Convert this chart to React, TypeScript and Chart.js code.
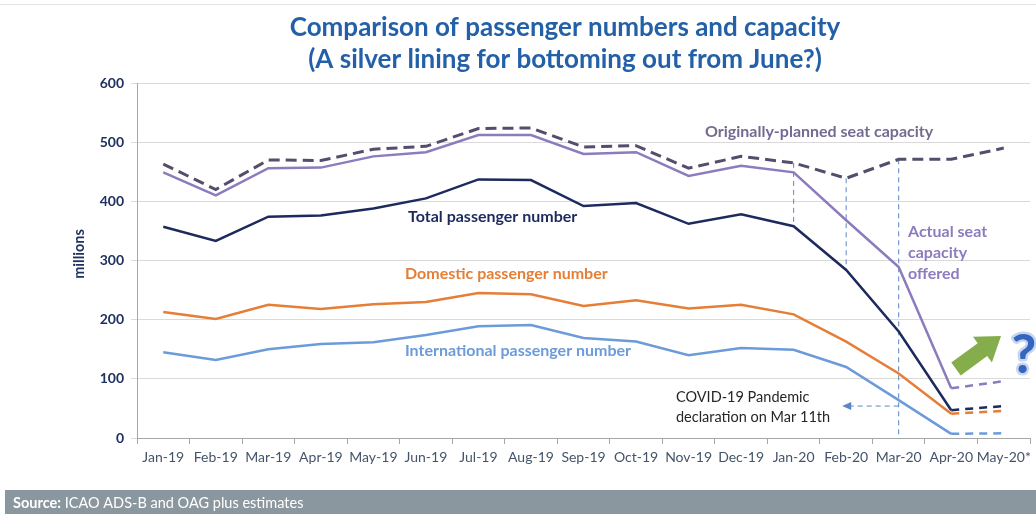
import React, { useEffect, useRef } from "react";
import { Chart, registerables } from "chart.js";

Chart.register(...registerables);

const months = ["Jan-19", "Feb-19", "Mar-19", "Apr-19", "May-19", "Jun-19", "Jul-19", "Aug-19", "Sep-19", "Oct-19", "Nov-19", "Dec-19", "Jan-20", "Feb-20", "Mar-20", "Apr-20", "May-20*"];
const plannedCapacity = [463, 420, 470, 469, 488, 493, 523, 524, 492, 494, 456, 476, 465, 439, 471, 471, 490];
const actualCapacity = [449, 410, 456, 457, 476, 483, 512, 512, 480, 483, 443, 460, 449, 368, 289, 84, 96];
const totalPassengers = [357, 333, 374, 376, 388, 405, 437, 436, 392, 397, 362, 378, 358, 284, 180, 47, 54];
const domesticPassengers = [213, 201, 225, 218, 226, 230, 245, 243, 223, 233, 219, 225, 209, 163, 109, 41, 46];
const internationalPassengers = [145, 132, 150, 159, 162, 174, 189, 191, 169, 163, 140, 152, 149, 120, 64, 7, 8];
const yTicks = [0, 100, 200, 300, 400, 500, 600];

const FONT = "Lato, 'Open Sans', sans-serif";
const C_PLANNED = "#554d6b";
const C_ACTUAL = "#8c7bbd";
const C_TOTAL = "#1c2a5e";
const C_DOM = "#e57e36";
const C_INTL = "#6b9bd9";
const C_GUIDE = "#5b86c5";

const forecastDash = (ctx: any) => (ctx.p1DataIndex === months.length - 1 ? [8, 6] : undefined);

const overlayPlugin = {
  id: "overlay",
  beforeDatasetsDraw(chart: any) {
    const { ctx } = chart;
    const x = chart.scales.x;
    const y = chart.scales.y;
    ctx.save();
    ctx.strokeStyle = C_GUIDE;
    ctx.lineWidth = 1;
    ctx.setLineDash([5, 4]);
    const guides = [
      { i: 12, to: totalPassengers[12] },
      { i: 13, to: totalPassengers[13] },
      { i: 14, to: 0 },
    ];
    for (const g of guides) {
      const px = x.getPixelForValue(g.i);
      ctx.beginPath();
      ctx.moveTo(px, y.getPixelForValue(plannedCapacity[g.i]));
      ctx.lineTo(px, y.getPixelForValue(g.to));
      ctx.stroke();
    }
    // dashed arrow pointing left from Mar-20 guide
    const ay = y.getPixelForValue(54);
    const ax0 = x.getPixelForValue(14);
    const ax1 = x.getPixelForValue(13) - 4;
    ctx.beginPath();
    ctx.moveTo(ax0, ay);
    ctx.lineTo(ax1 + 8, ay);
    ctx.stroke();
    ctx.setLineDash([]);
    ctx.fillStyle = C_GUIDE;
    ctx.beginPath();
    ctx.moveTo(ax1, ay);
    ctx.lineTo(ax1 + 9, ay - 4);
    ctx.lineTo(ax1 + 9, ay + 4);
    ctx.closePath();
    ctx.fill();
    ctx.restore();
  },
  afterDraw(chart: any) {
    const { ctx } = chart;
    const W = chart.width;
    const H = chart.height;
    ctx.save();
    // faint top rule
    ctx.strokeStyle = "#e4e4e4";
    ctx.lineWidth = 1;
    ctx.beginPath();
    ctx.moveTo(0, 4.5);
    ctx.lineTo(W, 4.5);
    ctx.stroke();

    // title
    ctx.fillStyle = "#2360a8";
    ctx.textAlign = "center";
    ctx.textBaseline = "alphabetic";
    ctx.font = `bold 26px ${FONT}`;
    ctx.fillText("Comparison of passenger numbers and capacity", 565, 36);
    ctx.fillText("(A silver lining for bottoming out from June?)", 565, 68);

    // y axis title
    ctx.save();
    ctx.translate(79, 254);
    ctx.rotate(-Math.PI / 2);
    ctx.fillStyle = "#1f3160";
    ctx.font = `bold 14.5px ${FONT}`;
    ctx.textAlign = "center";
    ctx.textBaseline = "middle";
    ctx.fillText("millions", 0, 0);
    ctx.restore();

    // series labels
    ctx.textAlign = "left";
    ctx.textBaseline = "middle";
    ctx.font = `bold 16px ${FONT}`;
    ctx.fillStyle = "#756a90";
    ctx.fillText("Originally-planned seat capacity", 705, 132);
    ctx.fillStyle = C_TOTAL;
    ctx.fillText("Total passenger number", 408, 217);
    ctx.fillStyle = C_DOM;
    ctx.fillText("Domestic passenger number", 405, 274);
    ctx.fillStyle = C_INTL;
    ctx.fillText("International passenger number", 405, 351);
    ctx.fillStyle = C_ACTUAL;
    ctx.fillText("Actual seat", 908, 232);
    ctx.fillText("capacity", 908, 253);
    ctx.fillText("offered", 908, 274);

    ctx.font = `14.5px ${FONT}`;
    ctx.fillStyle = "#262626";
    ctx.fillText("COVID-19 Pandemic", 676, 397);
    ctx.fillText("declaration on Mar 11th", 676, 417);

    // green block arrow
    const tail = { x: 956, y: 369 };
    const tip = { x: 1001, y: 336 };
    const dx = tip.x - tail.x;
    const dy = tip.y - tail.y;
    const len = Math.hypot(dx, dy);
    const ux = dx / len, uy = dy / len;
    const pxv = -uy, pyv = ux;
    const headLen = 23, headHalf = 16, shaftHalf = 8;
    const bx = tip.x - ux * headLen, by = tip.y - uy * headLen;
    ctx.fillStyle = "#86ad4b";
    ctx.beginPath();
    ctx.moveTo(tail.x + pxv * shaftHalf, tail.y + pyv * shaftHalf);
    ctx.lineTo(bx + pxv * shaftHalf, by + pyv * shaftHalf);
    ctx.lineTo(bx + pxv * headHalf, by + pyv * headHalf);
    ctx.lineTo(tip.x, tip.y);
    ctx.lineTo(bx - pxv * headHalf, by - pyv * headHalf);
    ctx.lineTo(bx - pxv * shaftHalf, by - pyv * shaftHalf);
    ctx.lineTo(tail.x - pxv * shaftHalf, tail.y - pyv * shaftHalf);
    ctx.closePath();
    ctx.fill();

    // question mark
    ctx.font = `bold 54px ${FONT}`;
    ctx.textAlign = "center";
    ctx.textBaseline = "alphabetic";
    ctx.lineJoin = "round";
    ctx.strokeStyle = "#c7d6ef";
    ctx.lineWidth = 5;
    ctx.strokeText("?", 1024, 373);
    ctx.fillStyle = "#3466bf";
    ctx.fillText("?", 1024, 373);

    // source bar
    ctx.fillStyle = "#8b979e";
    ctx.fillRect(5, 490, W - 5, H - 490);
    ctx.textAlign = "left";
    ctx.textBaseline = "middle";
    ctx.fillStyle = "#ffffff";
    ctx.font = `bold 14.5px ${FONT}`;
    const lbl = "Source:";
    ctx.fillText(lbl, 13, 503);
    const w = ctx.measureText(lbl).width;
    ctx.font = `14.5px ${FONT}`;
    ctx.fillText(" ICAO ADS-B and OAG plus estimates", 13 + w, 503);
    ctx.restore();
  },
};

export default function App() {
  const ref = useRef<HTMLCanvasElement | null>(null);
  useEffect(() => {
    document.body.style.margin = "0";
    const canvas = ref.current;
    if (!canvas) return;
    const line = (label: string, data: number[], color: string, extra: any = {}) => ({
      label,
      data,
      borderColor: color,
      backgroundColor: color,
      borderWidth: 2.5,
      pointRadius: 0,
      tension: 0,
      fill: false,
      ...extra,
    });
    const chart = new Chart(canvas, {
      type: "line",
      data: {
        labels: months,
        datasets: [
          line("Originally-planned seat capacity", plannedCapacity, C_PLANNED, { borderDash: [11, 6], borderWidth: 3 }),
          line("Actual seat capacity offered", actualCapacity, C_ACTUAL, { segment: { borderDash: forecastDash } }),
          line("Total passenger number", totalPassengers, C_TOTAL, { segment: { borderDash: forecastDash } }),
          line("Domestic passenger number", domesticPassengers, C_DOM, { segment: { borderDash: forecastDash } }),
          line("International passenger number", internationalPassengers, C_INTL, { segment: { borderDash: forecastDash } }),
        ],
      },
      options: {
        responsive: false,
        animation: false,
        layout: { padding: { top: 83, left: 0, right: 5, bottom: 0 } },
        plugins: { legend: { display: false }, title: { display: false }, tooltip: { enabled: false } },
        scales: {
          x: {
            offset: true,
            grid: { offset: true, drawOnChartArea: false, drawTicks: true, tickLength: 6, color: "#a6a6a6" },
            border: { color: "#a6a6a6" },
            ticks: { color: "#44546a", font: { family: FONT, size: 14 }, maxRotation: 0, autoSkip: false, padding: 5 },
            afterFit: (s: any) => { s.height = 76; },
          },
          y: {
            min: 0,
            max: 600,
            afterBuildTicks: (s: any) => { s.ticks = yTicks.map((v) => ({ value: v })); },
            grid: { color: "#dadada", tickLength: 6, drawTicks: true },
            border: { color: "#a6a6a6" },
            ticks: { color: "#1f3160", font: { family: FONT, size: 14, weight: "bold" }, padding: 7 },
            afterFit: (s: any) => { s.width = 137; },
          },
        },
      },
      plugins: [overlayPlugin],
    } as any);
    return () => chart.destroy();
  }, []);
  return (
    <div style={{ position: "absolute", left: 0, top: 0, width: 1036, height: 514, background: "#fff" }}>
      <canvas ref={ref} width={1036} height={514} style={{ display: "block" }} />
    </div>
  );
}
